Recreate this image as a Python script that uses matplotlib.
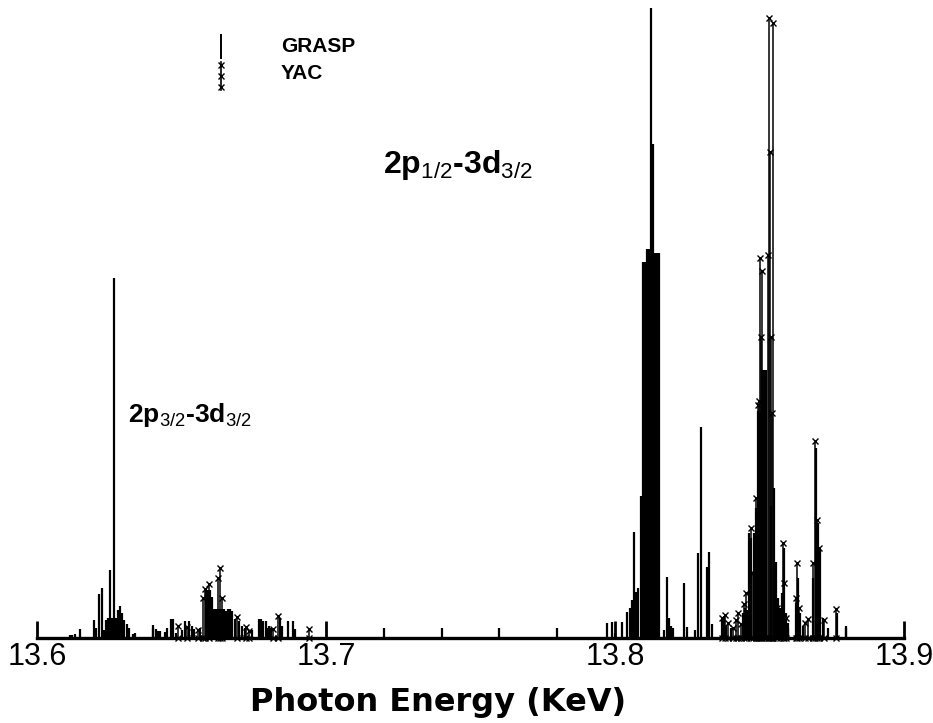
import matplotlib
matplotlib.use("Agg")
import matplotlib.pyplot as plt
from matplotlib.ticker import MultipleLocator, FixedLocator

plt.rcParams['font.family'] = ['Liberation Sans', 'DejaVu Sans']
plt.rcParams['mathtext.fontset'] = 'custom'
plt.rcParams['mathtext.rm'] = 'Liberation Sans'
plt.rcParams['mathtext.it'] = 'Liberation Sans:italic'
plt.rcParams['mathtext.bf'] = 'Liberation Sans:bold'

# GRASP transitions: photon energy (KeV) and relative intensity
grasp_energy = [
    13.6114, 13.6121, 13.6131, 13.6149, 13.6197, 13.6204, 13.6215, 13.6225,
    13.6232, 13.6239, 13.6246, 13.6253, 13.6260, 13.6266, 13.6273, 13.6280,
    13.6287, 13.6294, 13.6301, 13.6311, 13.6318, 13.6332, 13.6339, 13.6401,
    13.6412, 13.6419, 13.6426, 13.6443, 13.6450, 13.6464, 13.6471, 13.6481,
    13.6502, 13.6512, 13.6526, 13.6536, 13.6543, 13.6564, 13.6585, 13.6592,
    13.6599, 13.6606, 13.6612, 13.6619, 13.6626, 13.6633, 13.6640, 13.6647,
    13.6654, 13.6661, 13.6668, 13.6675, 13.6685, 13.6699, 13.6709, 13.6720,
    13.6744, 13.6768, 13.6775, 13.6782, 13.6792, 13.6803, 13.6810, 13.6841,
    13.6848, 13.6869, 13.6886, 13.6893,
    13.7972, 13.7990, 13.8000, 13.8024, 13.8042, 13.8052, 13.8059, 13.8066,
    13.8073, 13.8080, 13.8090, 13.8097, 13.8104, 13.8111, 13.8118, 13.8125,
    13.8131, 13.8138, 13.8145, 13.8152, 13.8170, 13.8180, 13.8187, 13.8194,
    13.8239, 13.8249, 13.8277, 13.8287, 13.8298, 13.8318, 13.8325, 13.8336,
    13.8370, 13.8377, 13.8384, 13.8443, 13.8450, 13.8457, 13.8464, 13.8471,
    13.8481, 13.8488, 13.8495, 13.8502, 13.8509, 13.8516, 13.8522, 13.8540,
    13.8550, 13.8557, 13.8564, 13.8571, 13.8578, 13.8585, 13.8592, 13.8599,
    13.8626, 13.8633, 13.8640, 13.8651, 13.8685, 13.8696, 13.8703, 13.8710,
    13.8720, 13.8737, 13.8768, 13.8799,
]
grasp_intensity = [
    0.5, 0.5, 0.6, 1.4, 2.8, 1.6, 7.0, 7.9,
    1.3, 2.8, 3.2, 10.7, 3.2, 56.9, 3.2, 4.4,
    5.1, 3.9, 2.8, 2.2, 1.6, 0.6, 0.8, 2.1,
    1.4, 1.1, 1.1, 0.9, 1.6, 3.0, 3.0, 0.8,
    1.3, 2.7, 2.7, 1.9, 1.4, 1.6, 7.6, 7.6,
    7.6, 6.5, 4.6, 4.6, 4.6, 4.6, 4.6, 4.6,
    4.3, 4.6, 4.6, 4.3, 3.0, 2.7, 1.9, 1.6,
    1.3, 3.0, 3.0, 2.7, 2.7, 1.9, 1.6, 3.2,
    1.9, 2.7, 2.7, 1.4,
    2.4, 2.5, 0.8, 2.5, 4.1, 4.7, 6.0, 16.7,
    7.3, 7.9, 22.4, 59.4, 59.4, 61.5, 61.5, 99.5,
    78.0, 60.8, 60.8, 60.8, 1.3, 9.6, 3.2, 1.9,
    8.7, 1.7, 1.3, 13.4, 33.3, 11.2, 13.6, 2.2,
    2.8, 3.5, 1.9, 3.9, 4.7, 4.4, 16.6, 15.8,
    16.6, 20.5, 35.9, 35.9, 42.3, 42.3, 42.3, 20.8,
    23.7, 12.0, 6.3, 4.7, 7.1, 14.2, 3.9, 2.4,
    5.5, 9.5, 3.9, 1.9, 9.5, 30.0, 18.2, 14.1,
    3.2, 1.6, 3.9, 1.9,
]

# YAC transitions: photon energy (KeV) and relative intensity
yac_energy = [
    13.6488, 13.6519, 13.6557, 13.6575, 13.6582, 13.6595, 13.6626, 13.6633,
    13.6640, 13.6692, 13.6723, 13.6734, 13.6817, 13.6834, 13.6941,
    13.8370, 13.8381, 13.8391, 13.8408, 13.8418, 13.8425, 13.8436, 13.8446,
    13.8453, 13.8471, 13.8478, 13.8488, 13.8495, 13.8499, 13.8502, 13.8505,
    13.8509, 13.8530, 13.8533, 13.8536, 13.8540, 13.8543, 13.8547, 13.8561,
    13.8571, 13.8581, 13.8585, 13.8592, 13.8626, 13.8630, 13.8637, 13.8658,
    13.8668, 13.8685, 13.8692, 13.8699, 13.8706, 13.8723, 13.8765,
]
yac_intensity = [
    1.9, 1.7, 1.3, 6.3, 7.7, 8.5, 9.5, 11.1,
    6.3, 3.3, 1.7, 1.1, 1.4, 3.5, 1.4,
    3.2, 3.6, 2.4, 1.6, 2.8, 3.9, 2.2, 5.4,
    7.1, 17.4, 10.3, 22.1, 36.8, 37.4, 60.0, 47.6,
    58.0, 60.5, 97.9, 76.8, 47.6, 35.5, 97.2, 4.7,
    3.5, 15.0, 8.7, 3.2, 6.3, 11.8, 4.7, 2.4,
    3.0, 11.8, 31.1, 18.6, 14.2, 2.8, 4.6,
]

fig = plt.figure(figsize=(9.33, 7.23), dpi=100)
ax = fig.add_axes([0.0397, 0.1176, 0.9293, 0.8755])

# GRASP sticks
ax.vlines(grasp_energy, 0, grasp_intensity, colors='black', linewidth=1.6)

# YAC sticks with x symbols at both ends
ax.vlines(yac_energy, 0, yac_intensity, colors='black', linewidth=1.1)
ax.plot(yac_energy, yac_intensity, linestyle='none', marker='x',
        markersize=5, markeredgewidth=1.0, color='black')
ax.plot(yac_energy, [0] * len(yac_energy), linestyle='none', marker='x',
        markersize=5, markeredgewidth=1.0, color='black', clip_on=False)

ax.set_xlim(13.6, 13.9)
ax.set_ylim(0, 100)

for side in ['left', 'right', 'top']:
    ax.spines[side].set_visible(False)
ax.spines['bottom'].set_linewidth(2.4)
ax.set_yticks([])
ax.xaxis.set_major_locator(FixedLocator([13.6, 13.7, 13.8, 13.9]))
ax.xaxis.set_minor_locator(MultipleLocator(0.02))
ax.tick_params(axis='x', which='major', direction='in', length=12, width=2.0,
               pad=3, labelsize=22)
ax.tick_params(axis='x', which='minor', direction='in', length=7, width=1.6)
ax.set_xticklabels(['13.6', '13.7', '13.8', '13.9'])
ax.set_xlabel('Photon Energy (KeV)', fontsize=23, fontweight='bold',
              family='DejaVu Sans')
ax.xaxis.set_label_coords(0.462, -0.078)

# transition labels
ax.text(13.6315, 35.2, r'2p$_{\mathit{3/2}}$-3d$_{\mathit{3/2}}$', fontsize=19,
        fontweight='bold', va='center', ha='left')
ax.text(13.7197, 74.7, r'2p$_{\mathit{1/2}}$-3d$_{\mathit{3/2}}$', fontsize=23,
        fontweight='bold', va='center', ha='left')

# legend drawn by hand
ax.plot([0.212, 0.212], [0.916, 0.953], transform=ax.transAxes,
        color='black', linewidth=1.4)
ax.plot([0.212, 0.212], [0.866, 0.910], transform=ax.transAxes,
        color='black', linewidth=1.2)
ax.plot([0.212, 0.212, 0.212], [0.871, 0.888, 0.905], transform=ax.transAxes,
        linestyle='none', marker='x', markersize=5, markeredgewidth=1.0,
        color='black')
ax.text(0.281, 0.935, 'GRASP', transform=ax.transAxes, fontsize=15,
        fontweight='bold', va='center', ha='left')
ax.text(0.281, 0.891, 'YAC', transform=ax.transAxes, fontsize=15,
        fontweight='bold', va='center', ha='left')

fig.savefig('out.png', dpi=100)
